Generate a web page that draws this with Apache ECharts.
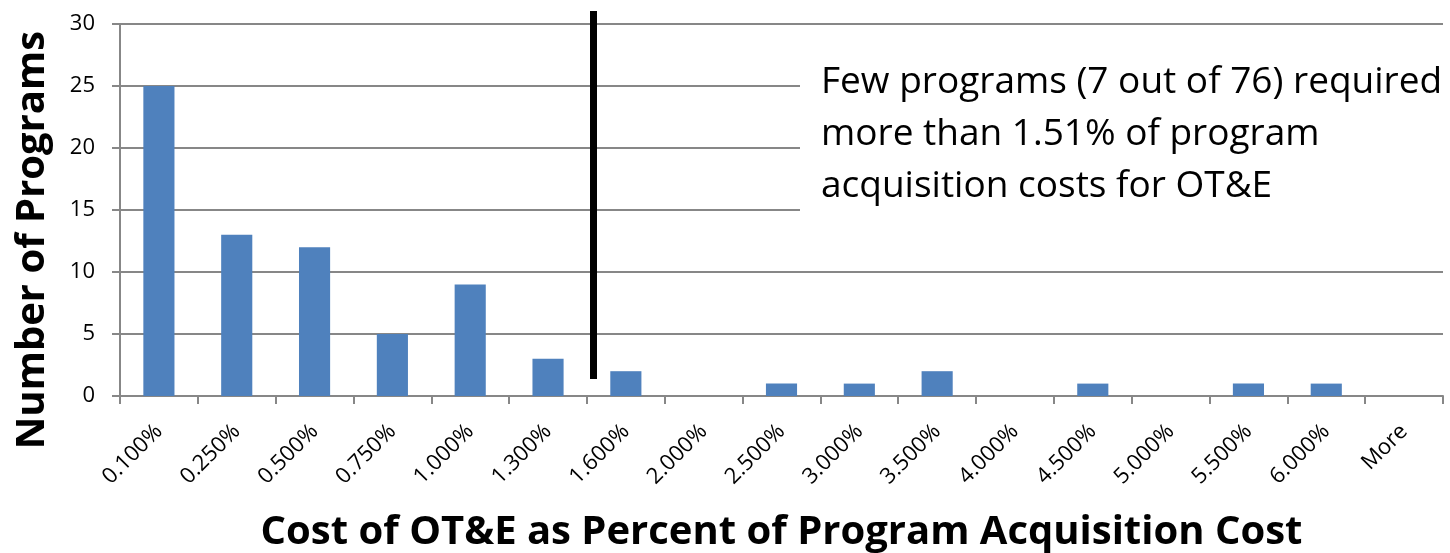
<!DOCTYPE html>
<html>
<head>
<meta charset="utf-8">
<script src="https://cdn.jsdelivr.net/npm/echarts@6/dist/echarts.min.js"></script>
<style>html,body{margin:0;padding:0;background:#fff}#c{width:1450px;height:553px}</style>
</head>
<body>
<div id="c"></div>
<script>
const categories = ['0.100%','0.250%','0.500%','0.750%','1.000%','1.300%','1.600%','2.000%','2.500%','3.000%','3.500%','4.000%','4.500%','5.000%','5.500%','6.000%','More'];
const programCounts = [25,13,12,5,9,3,2,0,1,1,2,0,1,0,1,1,0];
const yTicks = {min:0, max:30, interval:5};
const noteLines = ['Few programs (7 out of 76) required','more than 1.51% of program','acquisition costs for OT&E'];
const xTitle = 'Cost of OT&E as Percent of Program Acquisition Cost';
const yTitle = 'Number of Programs';

const FONT = '"Open Sans", "Noto Sans", sans-serif';
const chart = echarts.init(document.getElementById('c'), null, {renderer:'canvas'});
chart.setOption({
  animation:false,
  backgroundColor:'#ffffff',
  grid:{left:120, right:7, top:24, bottom:157, containLabel:false, outerBoundsMode:'none'},
  xAxis:{
    type:'category', data:categories, boundaryGap:true,
    axisLine:{lineStyle:{color:'#878787', width:2}},
    axisTick:{show:true, length:8, alignWithLabel:false, interval:0, lineStyle:{color:'#878787', width:2}},
    axisLabel:{rotate:45, interval:0, margin:32, fontSize:22, color:'#000', fontFamily:FONT},
    name:xTitle, nameLocation:'middle', nameGap:117, nameMoveOverlap:false,
    nameTextStyle:{fontSize:40, fontWeight:'bold', color:'#000', fontFamily:FONT}
  },
  yAxis:{
    type:'value', min:yTicks.min, max:yTicks.max, interval:yTicks.interval,
    axisLine:{show:true, lineStyle:{color:'#878787', width:2}},
    axisTick:{show:true, length:8, lineStyle:{color:'#878787', width:2}},
    axisLabel:{fontSize:22, color:'#000', margin:25, fontFamily:FONT},
    splitLine:{show:true, lineStyle:{color:'#878787', width:2}}
  },
  series:[{
    type:'bar', data:programCounts, barWidth:'40%',
    itemStyle:{color:'#4f81bd'}
  }],
  graphic:[
    {type:'text', z:100, x:33, y:240, rotation:Math.PI/2,
     style:{text:yTitle, fill:'#000', font:'bold 40px ' + FONT, textAlign:'center', textVerticalAlign:'middle'}},
    {type:'rect', z:90, shape:{x:800, y:45, width:650, height:190}, style:{fill:'#fff'}},
    {type:'text', z:100, x:821, y:56,
     style:{text:noteLines.join('\n'), fill:'#000', font:'37px ' + FONT, lineHeight:52, textAlign:'left', textVerticalAlign:'top'}},
    {type:'line', z:100, shape:{x1:593.5, y1:11, x2:593.5, y2:379}, style:{stroke:'#000', lineWidth:7}}
  ]
});
</script>
</body>
</html>
